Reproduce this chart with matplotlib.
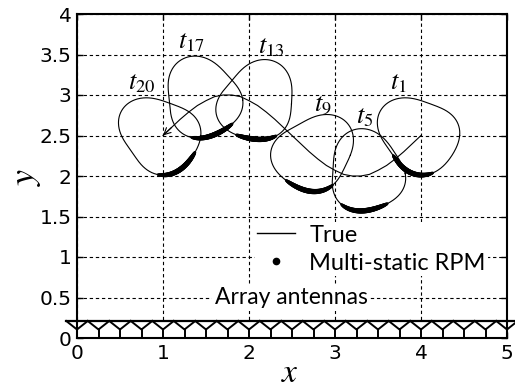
import numpy as np
import matplotlib
matplotlib.use("Agg")
import matplotlib.pyplot as plt
from matplotlib.lines import Line2D

plt.rcParams["mathtext.fontset"] = "stix"

# --- target outline at t1 (polar around the target centre) ---
shape_theta_deg = [4, 25, 46, 72, 99, 116, 141, 159, 192, 217, 243, 271, 287, 321, 342]
shape_r = [0.47, 0.44, 0.415, 0.415, 0.45, 0.52, 0.565, 0.535, 0.44, 0.415, 0.43, 0.50, 0.49, 0.42, 0.44]

# --- snapshots ---
snap_labels = [r"$t_{1}$", r"$t_{5}$", r"$t_{9}$", r"$t_{13}$", r"$t_{17}$", r"$t_{20}$"]
snap_cx = [4.0, 3.38, 2.74, 2.09, 1.48, 0.99]
snap_cy = [2.5, 2.03, 2.26, 2.89, 2.94, 2.5]
snap_rot_deg = [0, -37, -93, -72, -28, 0]
rpm_start_deg = [217, 231, 225, 238, 252, 264]
rpm_end_deg = [287, 302, 302, 300, 318, 332]
label_x = [3.74, 3.34, 2.86, 2.26, 1.33, 0.75]
label_y = [3.15, 2.73, 2.90, 3.60, 3.66, 3.15]

# --- centre trajectory (t1 -> t20) ---
traj_x = [4.0, 3.9, 3.8, 3.7, 3.6, 3.5, 3.4, 3.3, 3.2, 3.1, 3.0, 2.9, 2.8, 2.7, 2.6, 2.5,
          2.4, 2.3, 2.2, 2.1, 2.0, 1.9, 1.8, 1.7, 1.6, 1.5, 1.4, 1.3, 1.2, 1.1, 1.0]
traj_y = [2.50, 2.40, 2.30, 2.21, 2.13, 2.07, 2.02, 2.00, 2.00, 2.02, 2.07, 2.13, 2.21, 2.30, 2.40, 2.50,
          2.60, 2.70, 2.79, 2.87, 2.93, 2.98, 3.00, 3.00, 2.98, 2.93, 2.87, 2.79, 2.70, 2.60, 2.50]

antenna_x = [0, 0.25, 0.5, 0.75, 1.0, 1.25, 1.5, 1.75, 2.0, 2.25, 2.5, 2.75, 3.0,
             3.25, 3.5, 3.75, 4.0, 4.25, 4.5, 4.75, 5.0]

# --- smooth outline: low order Fourier fit of r(theta) ---
th = np.deg2rad(shape_theta_deg)
order = 3
def basis(t):
    cols = [np.ones_like(t)]
    for k in range(1, order + 1):
        cols += [np.cos(k * t), np.sin(k * t)]
    return np.column_stack(cols)
coef, *_ = np.linalg.lstsq(basis(th), np.array(shape_r), rcond=None)
def radius(t):
    return basis(np.atleast_1d(t)) @ coef

fig = plt.figure(figsize=(5.15, 3.88), dpi=100)
ax = fig.add_axes([77 / 515, 50 / 388, 430 / 515, 324 / 388])

phi = np.linspace(0, 2 * np.pi, 400)
for i in range(len(snap_cx)):
    rot = np.deg2rad(snap_rot_deg[i])
    r = radius(phi - rot)
    ax.plot(snap_cx[i] + r * np.cos(phi), snap_cy[i] + r * np.sin(phi),
            color="black", lw=0.8, zorder=3)
    pa = np.deg2rad(np.linspace(rpm_start_deg[i], rpm_end_deg[i], 70))
    rp = radius(pa - rot)
    u = np.linspace(0, 1, len(pa))
    sizes = 2 + 13 * np.sin(np.pi * u) ** 0.6
    ax.scatter(snap_cx[i] + rp * np.cos(pa), snap_cy[i] + rp * np.sin(pa),
               s=sizes, color="black", linewidths=0, zorder=4)
    ax.text(label_x[i], label_y[i], snap_labels[i], fontsize=19,
            ha="center", va="center", zorder=6)

ax.plot(traj_x, traj_y, color="black", lw=0.8, zorder=3)
ax.annotate("", xy=(traj_x[-1], traj_y[-1]), xytext=(traj_x[-2], traj_y[-2]),
            arrowprops=dict(arrowstyle="->", lw=0.8, color="black", mutation_scale=12,
                            shrinkA=0, shrinkB=0), zorder=3)

# --- array antennas ---
top, mid, hw = 0.21, 0.105, 0.125
ax.fill_between([0, 5], 0, top, color="white", zorder=2.5)
ax.plot([-hw, 5 + hw], [top, top], color="black", lw=1.6, zorder=4, clip_on=False)
for xa in antenna_x:
    ax.plot([xa - hw, xa, xa + hw], [top, mid, top], color="black", lw=1.4,
            zorder=4, clip_on=False)
    ax.plot([xa, xa], [0, mid], color="black", lw=1.4, zorder=4, clip_on=False)

ax.text(2.49, 0.5, "Array antennas", fontfamily="Lato", fontsize=16.5, ha="center",
        va="center", zorder=5,
        bbox=dict(facecolor="white", edgecolor="none", pad=2))

handles = [Line2D([], [], color="black", lw=1.0),
           Line2D([], [], color="black", marker="o", ls="none", markersize=4.5)]
leg = ax.legend(handles, ["True", "Multi-static RPM"], loc="upper left",
                bbox_to_anchor=(2.07, 1.43), bbox_transform=ax.transData,
                prop={"family": "Lato", "size": 17}, frameon=True, fancybox=False,
                framealpha=1, edgecolor="none", borderaxespad=0, borderpad=0.1,
                handlelength=1.6, handletextpad=0.6, labelspacing=0.3)
leg.set_zorder(5)

ax.set_xlim(0, 5)
ax.set_ylim(0, 4)
ax.set_xticks([0, 1, 2, 3, 4, 5])
ax.set_yticks([0, 0.5, 1, 1.5, 2, 2.5, 3, 3.5, 4])
ax.set_yticklabels(["0", "0.5", "1", "1.5", "2", "2.5", "3", "3.5", "4"])
ax.grid(True, color="black", lw=0.8, ls=(0, (3, 2.5)))
ax.set_axisbelow(True)
ax.tick_params(direction="in", top=True, right=True, length=4, width=1, pad=4,
               labelsize=14.5)
for lab in ax.get_xticklabels() + ax.get_yticklabels():
    lab.set_fontfamily("Liberation Sans Narrow")
for s in ax.spines.values():
    s.set_linewidth(1.5)
    s.set_zorder(6)

fig.text(26 / 515, 1 - 177 / 388, r"$y$", fontsize=26, rotation=90, ha="center", va="center")
fig.text(290 / 515, 1 - 373 / 388, r"$x$", fontsize=24, ha="center", va="center")

fig.savefig("out.png", dpi=100)
